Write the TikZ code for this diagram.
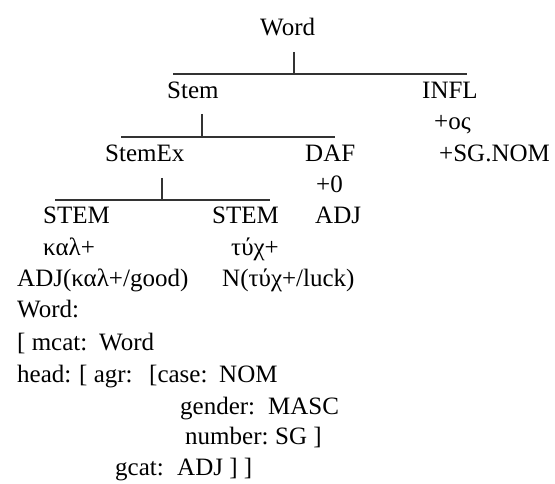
\documentclass[tikz,border=0pt]{standalone}
\usepackage{fontspec}
\setmainfont{Liberation Serif}
\usetikzlibrary{positioning}

\begin{document}
\begin{tikzpicture}[x=1pt, y=-1pt,
    txt/.style={anchor=base west, inner sep=0pt, font=\fontsize{25}{29}\selectfont},
    bar/.style={line width=1.1pt, draw=black!80}]
    \useasboundingbox (0,0) rectangle (555,484);

    % Tree part
    \node[txt] (word) at (260, 36) {Word};
    \node[txt] (stem) at (167, 98.6) {Stem};
    \node[txt] (infl) at (422, 98.6) {INFL};
    \node[txt] (os) at (434, 129.9) {+ος};
    \node[txt] (stemex) at (105, 161.2) {StemEx};
    \node[txt] (daf) at (305, 161.2) {DAF};
    \node[txt] (sgnom) at (439, 161.2) {+SG.NOM};
    \node[txt] (zero) at (316, 192.5) {+0};
    \node[txt] (stemA) at (43, 223.8) {STEM};
    \node[txt] (stemB) at (212, 223.8) {STEM};
    \node[txt] (adj) at (315, 223.8) {ADJ};
    \node[txt] (kal) at (43, 255.1) {καλ+};
    \node[txt] (tyx) at (231, 255.1) {τύχ+};
    \node[txt] (adjkal) at (17, 286.4) {ADJ(καλ+/good)};
    \node[txt] (ntyx) at (222, 286.4) {N(τύχ+/luck)};

    % Bars
    \coordinate (barWl) at (173, 74);
    \coordinate (barWr) at (467, 74);
    \coordinate (barWt) at (294, 52);
    \coordinate (barWb) at (294, 75);
    \coordinate (barSl) at (121, 137);
    \coordinate (barSr) at (335, 137);
    \coordinate (barSt) at (202, 114);
    \coordinate (barSb) at (202, 138);
    \coordinate (barXl) at (55, 200);
    \coordinate (barXr) at (270, 200);
    \coordinate (barXt) at (162, 178);
    \coordinate (barXb) at (162, 201);
    \draw[bar] (barWl) -- (barWr);
    \draw[bar] (barWt) -- (barWb);
    \draw[bar] (barSl) -- (barSr);
    \draw[bar] (barSt) -- (barSb);
    \draw[bar] (barXl) -- (barXr);
    \draw[bar] (barXt) -- (barXb);

    % Feature structure
    \node[txt] (fsword) at (17, 317.7) {Word:};
    \node[txt] (mcat) at (17, 350) {[ mcat:};
    \node[txt] (mcatv) at (99, 350) {Word};
    \node[txt] (head) at (17, 382) {head:};
    \node[txt] (agr) at (79, 382) {[ agr:};
    \node[txt] (case) at (149, 382) {[case:};
    \node[txt] (casev) at (219, 382) {NOM};
    \node[txt] (gender) at (180, 414) {gender:};
    \node[txt] (genderv) at (268, 414) {MASC};
    \node[txt] (number) at (185, 444.5) {number:};
    \node[txt] (numberv) at (275, 444.5) {SG ]};
    \node[txt] (gcat) at (115, 475) {gcat:};
    \node[txt] (gcatv) at (177, 475) {ADJ ] ]};

\end{tikzpicture}
\end{document}
